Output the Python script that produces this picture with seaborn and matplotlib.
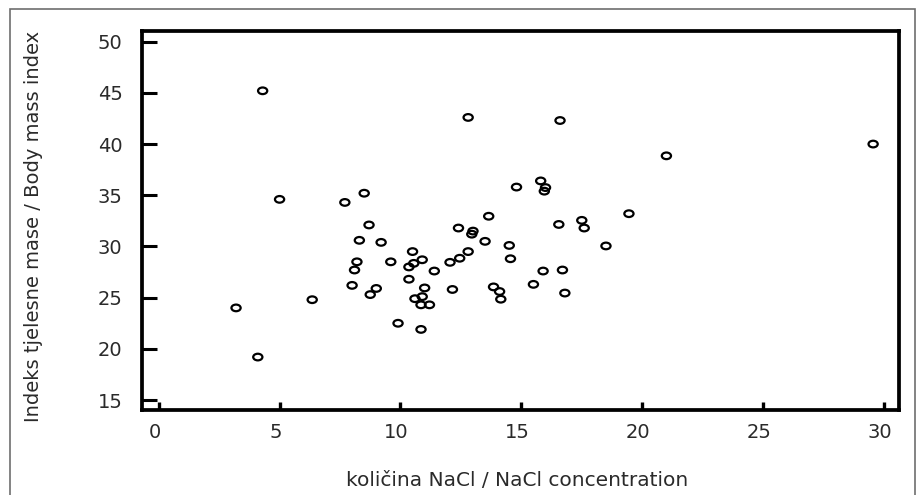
import matplotlib
matplotlib.use("Agg")
import matplotlib.pyplot as plt
import matplotlib.transforms as mtransforms
from matplotlib.path import Path
from matplotlib.patches import Rectangle
import seaborn as sns
import pandas as pd

# ---- data ----
nacl = [3.2, 4.1, 4.3, 5.0, 6.35, 7.7, 8.5, 8.7, 8.3, 9.2,
        8.2, 8.1, 8.0, 9.0, 8.75, 9.6, 10.5, 10.35, 10.55, 10.9,
        11.4, 10.35, 11.0, 10.6, 10.9, 10.85, 11.2, 9.9, 10.85, 12.05,
        12.45, 12.8, 12.15, 12.4, 13.0, 12.95, 12.8, 13.5, 13.65, 14.5,
        14.55, 13.85, 14.1, 14.15, 14.8, 15.5, 15.8, 16.0, 15.95, 15.9,
        16.55, 16.6, 16.7, 16.8, 17.5, 17.6, 18.5, 19.45, 21.0, 29.55]
bmi = [24.0, 19.2, 45.2, 34.6, 24.8, 34.3, 35.2, 32.1, 30.6, 30.4,
       28.5, 27.7, 26.2, 25.9, 25.3, 28.5, 29.5, 28.0, 28.35, 28.7,
       27.6, 26.8, 25.95, 24.9, 25.1, 24.3, 24.3, 22.5, 21.9, 28.45,
       28.85, 29.5, 25.8, 31.8, 31.5, 31.2, 42.6, 30.5, 32.95, 30.1,
       28.8, 26.05, 25.6, 24.85, 35.8, 26.3, 36.4, 35.75, 35.4, 27.6,
       32.15, 42.3, 27.7, 25.45, 32.55, 31.8, 30.05, 33.2, 38.85, 40.0]
x_ticks = [0, 5, 10, 15, 20, 25, 30]
y_ticks = [15, 20, 25, 30, 35, 40, 45, 50]
x_title = "količina NaCl / NaCl concentration"
y_title = "Indeks tjelesne mase / Body mass index"

df = pd.DataFrame({"nacl": nacl, "bmi": bmi})

sns.set_theme(style="white")
plt.rcParams["font.family"] = ["DejaVu Sans"]

W, H = 917, 495
fig = plt.figure(figsize=(W / 100, H / 100), dpi=100)
fig.patch.set_facecolor("white")

# outer grey frame
fig.patches.append(Rectangle((10 / W, -0.05), (915 - 10) / W, (H - 9) / H + 0.05,
                             transform=fig.transFigure, fill=False,
                             edgecolor="#6e6e6e", linewidth=1.2))

ax = fig.add_axes([142 / W, 1 - 410 / H, (899 - 142) / W, (410 - 31) / H])

ellipse = Path.unit_circle().transformed(mtransforms.Affine2D().scale(1.0, 0.72))

sns.scatterplot(data=df, x="nacl", y="bmi", ax=ax, marker=ellipse, s=44,
                facecolor="none", edgecolor="black", linewidth=1.6, legend=False)

ax.set_xlim(-0.69, 30.62)
ax.set_ylim(14.03, 51.04)
ax.set_xticks(x_ticks)
ax.set_yticks(y_ticks)
ax.set_xticklabels([str(t) for t in x_ticks])
ax.set_yticklabels([str(t) for t in y_ticks])
ax.set_xlabel("")
ax.set_ylabel("")

for sp in ax.spines.values():
    sp.set_visible(True)
    sp.set_color("black")
    sp.set_linewidth(2.7)

ax.tick_params(axis="y", direction="in", length=11, width=2.2, color="black",
               pad=14, labelsize=14, labelcolor="#2a2a2a", left=True)
ax.tick_params(axis="x", direction="in", length=6, width=2.4, color="black",
               pad=9, labelsize=14, labelcolor="#2a2a2a", bottom=True)

shift = mtransforms.ScaledTranslation(-4 / 100, 0, fig.dpi_scale_trans)
for lab in ax.get_xticklabels():
    lab.set_transform(lab.get_transform() + shift)

fig.text(517 / W, 1 - 481 / H, x_title, ha="center", va="center",
         fontsize=14.5, color="#2a2a2a")
fig.text(34 / W, 1 - 226 / H, y_title, ha="center", va="center",
         rotation=90, fontsize=14, color="#2a2a2a")

fig.savefig("out.png", dpi=100, facecolor="white")
